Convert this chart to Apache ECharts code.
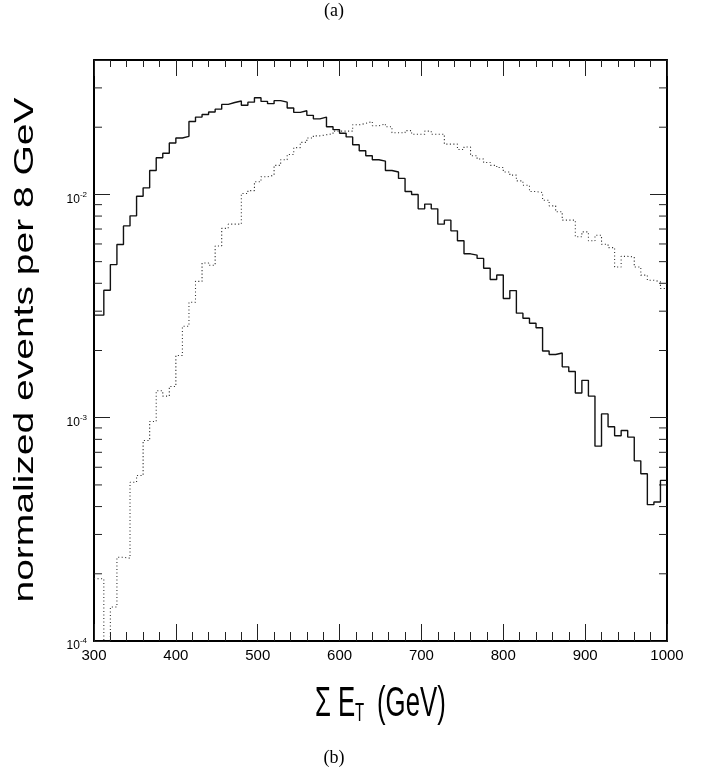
<!DOCTYPE html>
<html>
<head>
<meta charset="utf-8">
<script src="https://cdn.jsdelivr.net/npm/echarts@6/dist/echarts.min.js"></script>
<style>
html,body{margin:0;padding:0;background:#fff;}
#chart{width:706px;height:773px;}
</style>
</head>
<body>
<div id="chart"></div>
<script>
// Bin left edges (GeV); the histogram uses 8 GeV bins, the first one cut at 300
const binLeft = [300, 304, 312, 320, 328, 336, 344, 352, 360, 368,
  376, 384, 392, 400, 408, 416, 424, 432, 440, 448,
  456, 464, 472, 480, 488, 496, 504, 512, 520, 528,
  536, 544, 552, 560, 568, 576, 584, 592, 600, 608,
  616, 624, 632, 640, 648, 656, 664, 672, 680, 688,
  696, 704, 712, 720, 728, 736, 744, 752, 760, 768,
  776, 784, 792, 800, 808, 816, 824, 832, 840, 848,
  856, 864, 872, 880, 888, 896, 904, 912, 920, 928,
  936, 944, 952, 960, 968, 976, 984, 992];

// Solid histogram
const solidValues = [2.88e-3, 2.88e-3, 3.72e-3, 4.85e-3, 5.97e-3, 7.23e-3, 8.02e-3, 9.82e-3, 1.07e-2, 1.28e-2,
  1.46e-2, 1.53e-2, 1.70e-2, 1.79e-2, 1.82e-2,
  2.12e-2, 2.22e-2, 2.28e-2, 2.34e-2, 2.41e-2,
  2.53e-2, 2.58e-2, 2.62e-2, 2.51e-2, 2.59e-2,
  2.71e-2, 2.61e-2, 2.55e-2, 2.63e-2, 2.59e-2,
  2.44e-2, 2.33e-2, 2.37e-2, 2.26e-2, 2.18e-2,
  2.22e-2, 2.01e-2, 1.95e-2, 1.88e-2, 1.81e-2,
  1.67e-2, 1.57e-2, 1.49e-2, 1.43e-2, 1.41e-2,
  1.28e-2, 1.26e-2, 1.18e-2, 1.03e-2, 1.00e-2,
  8.62e-3, 9.05e-3, 8.62e-3, 7.36e-3, 7.67e-3,
  6.87e-3, 6.20e-3, 5.42e-3, 5.35e-3, 5.17e-3,
  4.67e-3, 4.16e-3, 4.36e-3, 3.42e-3, 3.71e-3,
  2.94e-3, 2.79e-3, 2.65e-3, 2.53e-3, 1.99e-3,
  1.92e-3, 1.95e-3, 1.69e-3, 1.61e-3, 1.29e-3,
  1.47e-3, 1.25e-3, 7.46e-4, 1.04e-3, 9.11e-4,
  8.30e-4, 8.77e-4, 8.19e-4, 6.41e-4, 5.61e-4,
  4.08e-4, 4.19e-4, 5.24e-4];

// Dotted histogram (values below 1e-4 fall off the bottom of the frame)
const dottedValues = [1.9e-4, 1.9e-4, 5e-5, 1.42e-4, 2.37e-4, 2.35e-4, 5.14e-4, 5.51e-4, 7.91e-4, 9.62e-4,
  1.32e-3, 1.25e-3, 1.38e-3, 1.90e-3, 2.57e-3,
  3.29e-3, 4.08e-3, 4.93e-3, 4.82e-3, 5.88e-3,
  7.05e-3, 7.36e-3, 7.36e-3, 1.01e-2, 1.04e-2,
  1.14e-2, 1.20e-2, 1.22e-2, 1.35e-2, 1.43e-2,
  1.51e-2, 1.62e-2, 1.71e-2, 1.79e-2, 1.83e-2,
  1.85e-2, 1.87e-2, 1.92e-2, 1.92e-2, 1.92e-2,
  2.05e-2, 2.08e-2, 2.12e-2, 2.03e-2, 2.07e-2,
  2.01e-2, 1.89e-2, 1.89e-2, 1.93e-2, 1.86e-2,
  1.86e-2, 1.92e-2, 1.86e-2, 1.86e-2, 1.68e-2,
  1.68e-2, 1.59e-2, 1.63e-2, 1.49e-2, 1.44e-2,
  1.39e-2, 1.35e-2, 1.32e-2, 1.26e-2, 1.22e-2,
  1.15e-2, 1.10e-2, 1.03e-2, 1.02e-2, 9.42e-3,
  8.89e-3, 8.36e-3, 7.67e-3, 7.67e-3, 6.46e-3,
  6.80e-3, 6.20e-3, 6.56e-3, 5.98e-3, 5.78e-3,
  4.73e-3, 5.28e-3, 5.25e-3, 4.73e-3, 4.35e-3,
  4.13e-3, 4.06e-3, 3.79e-3];

// Axis ranges and ticks
const xRange = [300, 1000];
const xTickStep = 100;
const yRange = [1e-4, 0.04];
const yMinorTicks = [2e-4, 3e-4, 4e-4, 5e-4, 6e-4, 7e-4, 8e-4, 9e-4,
  2e-3, 3e-3, 4e-3, 5e-3, 6e-3, 7e-3, 8e-3, 9e-3,
  2e-2, 3e-2];

// Texts
const topLabel = '(a)';
const bottomLabel = '(b)';
const yTitle = 'normalized events per 8 GeV';
const xTitleMain = 'Σ E';
const xTitleSub = 'T';
const xTitleUnit = '(GeV)';

function histPoints(edges, vals) {
  const pts = edges.map((e, i) => [e, vals[i]]);
  pts.push([xRange[1], vals[vals.length - 1]]);
  return pts;
}

const NARROW = '"Liberation Sans Narrow", "Liberation Sans", Arial, sans-serif';
const SANS = '"Liberation Sans", Arial, sans-serif';
const SERIF = '"Liberation Serif", "Times New Roman", serif';

const chart = echarts.init(document.getElementById('chart'), null, {renderer: 'canvas'});

const axisLineStyle = {show: true, onZero: false, lineStyle: {color: '#000', width: 2}};

const option = {
  backgroundColor: '#fff',
  animation: false,
  grid: {left: 94, right: 39, top: 60, bottom: 132, containLabel: false},
  xAxis: [{
    type: 'value', min: xRange[0], max: xRange[1], interval: xTickStep, position: 'bottom',
    axisLine: axisLineStyle,
    axisTick: {show: true, inside: true, length: 17, lineStyle: {color: '#222', width: 1}},
    minorTick: {show: true, splitNumber: 5, length: 9, lineStyle: {color: '#222', width: 1}},
    splitLine: {show: false},
    axisLabel: {show: true, margin: 7, fontFamily: NARROW, fontSize: 15, color: '#000',
      showMinLabel: true, showMaxLabel: true,
      formatter: function (v) { return String(v); }}
  }, {
    type: 'value', min: xRange[0], max: xRange[1], interval: xTickStep, position: 'top',
    axisLine: axisLineStyle,
    axisTick: {show: true, inside: true, length: 16, lineStyle: {color: '#222', width: 1}},
    minorTick: {show: true, splitNumber: 5, length: 7, lineStyle: {color: '#222', width: 1}},
    splitLine: {show: false},
    axisLabel: {show: false}
  }],
  yAxis: [{
    type: 'log', logBase: 10, min: yRange[0], max: yRange[1], position: 'left',
    axisLine: axisLineStyle,
    axisTick: {show: true, inside: true, length: 16, lineStyle: {color: '#222', width: 1}},
    splitLine: {show: false},
    axisLabel: {
      show: true, margin: 7, align: 'right',
      formatter: function (v) {
        const e = Math.round(Math.log10(v));
        if (Math.abs(Math.log10(v) - e) > 1e-6) return '';
        return '{b|10}{s|' + e + '}';
      },
      rich: {
        b: {fontFamily: NARROW, fontSize: 12, color: '#000', lineHeight: 22, verticalAlign: 'bottom'},
        s: {fontFamily: NARROW, fontSize: 8, color: '#000', lineHeight: 22, verticalAlign: 'middle'}
      }
    }
  }, {
    type: 'log', logBase: 10, min: yRange[0], max: yRange[1], position: 'right',
    axisLine: axisLineStyle,
    axisTick: {show: true, inside: true, length: 17, lineStyle: {color: '#222', width: 1}},
    splitLine: {show: false},
    axisLabel: {show: false}
  }],
  series: [{
    type: 'line', name: 'solid', xAxisIndex: 0, yAxisIndex: 0,
    step: 'end', symbol: 'none', clip: true,
    data: histPoints(binLeft, solidValues),
    lineStyle: {color: '#111', width: 1.4, type: 'solid'}
  }, {
    type: 'line', name: 'dotted', xAxisIndex: 0, yAxisIndex: 0,
    step: 'end', symbol: 'none', clip: true,
    data: histPoints(binLeft, dottedValues),
    lineStyle: {color: '#333', width: 1.1, type: [1.1, 2.4]}
  }, {
    type: 'custom', name: 'minorTicks', xAxisIndex: 0, yAxisIndex: 0,
    silent: true, clip: false,
    data: yMinorTicks.map(v => [xRange[0], v]),
    renderItem: function (params, api) {
      const cs = params.coordSys;
      const y = api.coord([xRange[0], api.value(1)])[1];
      const st = {stroke: '#222', lineWidth: 1};
      return {
        type: 'group',
        children: [
          {type: 'line', shape: {x1: cs.x, y1: y, x2: cs.x + 8, y2: y}, style: st},
          {type: 'line', shape: {x1: cs.x + cs.width - 8, y1: y, x2: cs.x + cs.width, y2: y}, style: st}
        ]
      };
    }
  }],
  graphic: [{
    type: 'text', x: 334, y: 11,
    style: {text: topLabel, font: '18px ' + SERIF, fill: '#000',
      align: 'center', verticalAlign: 'middle', textAlign: 'center', textVerticalAlign: 'middle'}
  }, {
    type: 'text', x: 334, y: 758,
    style: {text: bottomLabel, font: '18px ' + SERIF, fill: '#000',
      align: 'center', verticalAlign: 'middle', textAlign: 'center', textVerticalAlign: 'middle'}
  }, {
    type: 'text', x: 25, y: 350, rotation: Math.PI / 2, scaleX: 1, scaleY: 0.72,
    style: {text: yTitle, font: '39px ' + SANS, fill: '#000',
      align: 'center', verticalAlign: 'middle', textAlign: 'center', textVerticalAlign: 'middle'}
  }, {
    type: 'text', x: 315, y: 704, scaleX: 0.6, scaleY: 1,
    style: {text: xTitleMain, font: '43px ' + SANS, fill: '#000',
      align: 'left', verticalAlign: 'middle', textAlign: 'left', textVerticalAlign: 'middle'}
  }, {
    type: 'text', x: 355, y: 714, scaleX: 0.6, scaleY: 1,
    style: {text: xTitleSub, font: '25px ' + SANS, fill: '#000',
      align: 'left', verticalAlign: 'middle', textAlign: 'left', textVerticalAlign: 'middle'}
  }, {
    type: 'text', x: 377, y: 704, scaleX: 0.6, scaleY: 1,
    style: {text: xTitleUnit, font: '43px ' + SANS, fill: '#000',
      align: 'left', verticalAlign: 'middle', textAlign: 'left', textVerticalAlign: 'middle'}
  }]
};

chart.setOption(option);
</script>
</body>
</html>
